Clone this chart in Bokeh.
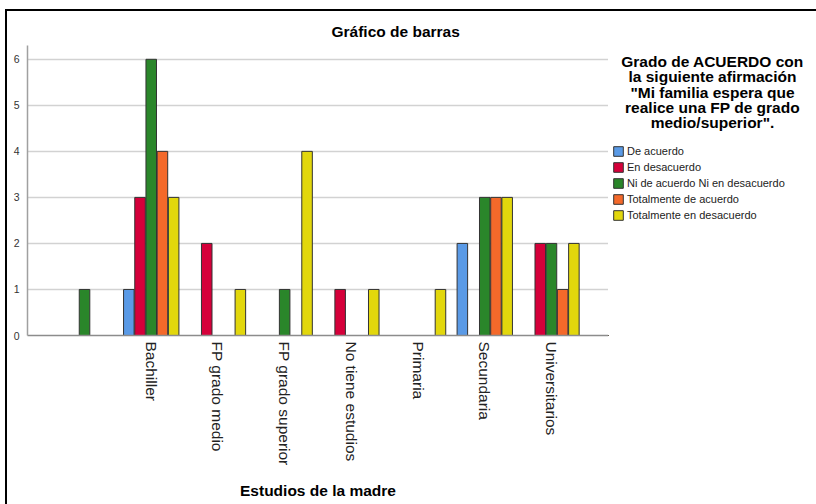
import math
from bokeh.plotting import figure
from bokeh.layouts import row
from bokeh.models import (ColumnDataSource, FactorRange, Range1d, FixedTicker,
                          Legend, LegendItem, Label)
from bokeh.transform import dodge
from bokeh.embed import file_html
from bokeh.resources import INLINE

# ---- data ----
categories = [" ", "Bachiller", "FP grado medio", "FP grado superior",
              "No tiene estudios", "Primaria", "Secundaria", "Universitarios"]
series_names = ["De acuerdo", "En desacuerdo", "Ni de acuerdo Ni en desacuerdo",
                "Totalmente de acuerdo", "Totalmente en desacuerdo"]
de_acuerdo = [0, 1, 0, 0, 0, 0, 2, 0]
en_desacuerdo = [0, 3, 2, 0, 1, 0, 0, 2]
ni_de_acuerdo = [1, 6, 0, 1, 0, 0, 3, 2]
totalmente_de_acuerdo = [0, 4, 0, 0, 0, 0, 3, 1]
totalmente_en_desacuerdo = [0, 3, 1, 4, 1, 1, 3, 2]
y_ticks = [0, 1, 2, 3, 4, 5, 6]
legend_title = ["Grado de ACUERDO con", "la siguiente afirmación",
                "\"Mi familia espera que", "realice una FP de grado",
                "medio/superior\"."]

series_values = [de_acuerdo, en_desacuerdo, ni_de_acuerdo,
                 totalmente_de_acuerdo, totalmente_en_desacuerdo]
colors = ["#5A9AE6", "#D5003A", "#2A862A", "#F4692A", "#E2D70C"]

FONT = "Liberation Sans"

# ---------------- main chart ----------------
x_range = FactorRange(factors=categories, range_padding=0.355,
                      range_padding_units="absolute")
p = figure(x_range=x_range, y_range=Range1d(0, 6.3),
           width=601, height=493, output_backend="svg", toolbar_location=None,
           min_border_left=20, min_border_right=0, min_border_top=34,
           min_border_bottom=169)
p.outline_line_color = None
p.background_fill_color = "white"
p.border_fill_color = "white"

p.title.text = "Gráfico de barras"
p.title.align = "left"
p.title.offset = 304
p.title.text_font = FONT
p.title.text_font_size = "15.5px"
p.title.text_font_style = "bold"
p.title.text_color = "black"
p.title.standoff = 12

slot = 0.168
main_renderers = []
for i, (vals, col) in enumerate(zip(series_values, colors)):
    xs = [c for c, v in zip(categories, vals) if v > 0]
    ys = [v for v in vals if v > 0]
    src = ColumnDataSource(dict(cat=xs, val=ys))
    main_renderers.append(
        p.vbar(x=dodge("cat", (i - 2) * slot, range=p.x_range), top="val",
               bottom=0, width=0.158, source=src, fill_color=col,
               line_color="#333333", line_width=1))

p.xaxis.axis_label = "Estudios de la madre"
p.xaxis.axis_label_text_font = FONT
p.xaxis.axis_label_text_font_style = "bold"
p.xaxis.axis_label_text_font_size = "15.5px"
p.xaxis.axis_label_text_color = "black"
p.xaxis.axis_label_standoff = 13
p.xaxis.major_label_orientation = -math.pi / 2
p.xaxis.major_label_text_font = FONT
p.xaxis.major_label_text_font_size = "15.5px"
p.xaxis.major_label_text_color = "#222222"
p.xaxis.major_label_standoff = 0
p.xaxis.major_tick_line_color = None
p.xaxis.minor_tick_line_color = None
p.xaxis.axis_line_color = "#8C8C8C"
p.xaxis.axis_line_width = 1.5

p.yaxis.ticker = FixedTicker(ticks=y_ticks)
p.yaxis.major_label_text_font = FONT
p.yaxis.major_label_text_font_size = "10.5px"
p.yaxis.major_label_text_color = "#333333"
p.yaxis.major_label_standoff = 2
p.yaxis.major_tick_line_color = None
p.yaxis.minor_tick_line_color = None
p.yaxis.axis_line_color = "#A0A0A0"
p.yaxis.axis_line_width = 1.5

p.xgrid.grid_line_color = None
p.ygrid.ticker = FixedTicker(ticks=y_ticks)
p.ygrid.grid_line_color = "#D2D2D2"
p.ygrid.grid_line_width = 1.5

# ---------------- legend panel (frame aligned with the chart's frame) ----------------
LW, LH = 208, 493
q = figure(width=LW, height=LH, x_range=Range1d(0, 1), y_range=Range1d(0, 1),
           x_axis_type=None, y_axis_type=None, output_backend="svg",
           toolbar_location=None, min_border=0)
q.outline_line_color = None
q.xgrid.visible = False
q.ygrid.visible = False
q.background_fill_color = "white"
q.border_fill_color = "white"

# legend swatch renderers: same styling as the chart bars, data kept outside the view
items = []
for name, col in zip(series_names, colors):
    r = q.vbar(x=[-5.0], top=[-5.0], bottom=[-6.0], width=0.1, fill_color=col,
               line_color="#333333", line_width=1)
    items.append(LegendItem(label=name, renderers=[r], index=0))

FRAME_BOTTOM = 335  # page y of the shared frame bottom
legend = Legend(items=items, location=(4, FRAME_BOTTOM - 221), orientation="vertical",
                glyph_width=12, glyph_height=12, label_height=12,
                label_standoff=3, spacing=4, padding=0, margin=0,
                label_text_font=FONT, label_text_font_size="11px",
                label_text_color="#222222", border_line_color=None,
                background_fill_alpha=0)
q.add_layout(legend)

for k, line in enumerate(legend_title):
    q.add_layout(Label(x=104, y=FRAME_BOTTOM - (61 + k * 15.3), x_units="screen",
                       y_units="screen", text=line, text_align="center",
                       text_baseline="middle", text_font=FONT,
                       text_font_size="15.5px", text_font_style="bold",
                       text_color="black"))

layout = row(p, q)
layout.styles = {"margin-left": "5px", "margin-top": "9px",
                 "border-left": "2px solid black", "border-top": "2px solid black"}

open("out.html", "w").write(file_html(layout, INLINE))
